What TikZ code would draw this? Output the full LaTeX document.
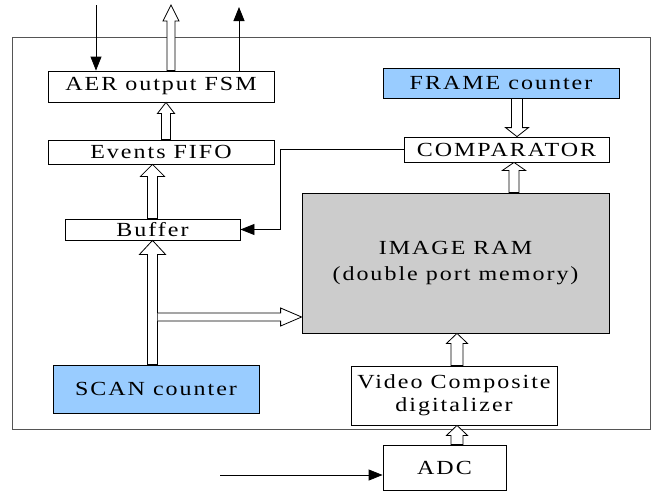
\documentclass[tikz,border=0pt]{standalone}
\usepackage{fontspec}
\setmainfont{Liberation Serif}[FakeStretch=1.2,LetterSpace=10]
\usetikzlibrary{arrows.meta,calc}
\definecolor{lblue}{HTML}{99CCFF}
\definecolor{ramgray}{HTML}{CCCCCC}
\definecolor{framegray}{HTML}{555555}
\tikzset{
  box/.style={draw=black,line width=0.8pt,fill=white,inner sep=0pt,font=\fontsize{20}{23}\selectfont},
  thinarrow/.style={draw=black,line width=0.8pt,-{Triangle[length=14pt,width=11pt]}},
  fat/.style={draw=black,line width=0.8pt,fill=white,line join=miter},
}
% vertical fat arrow upward: start, target(y), shaft half, head half, head length
\newcommand{\fatup}[5]{\path[fat] let \p1=(#1), \p2=(#2) in
  (\x1-#3pt,\y1) -- (\x1-#3pt,\y2-#5pt) -- (\x1-#4pt,\y2-#5pt) -- (\x1,\y2) --
  (\x1+#4pt,\y2-#5pt) -- (\x1+#3pt,\y2-#5pt) -- (\x1+#3pt,\y1) -- cycle;}
\newcommand{\fatdown}[5]{\path[fat] let \p1=(#1), \p2=(#2) in
  (\x1-#3pt,\y1) -- (\x1-#3pt,\y2+#5pt) -- (\x1-#4pt,\y2+#5pt) -- (\x1,\y2) --
  (\x1+#4pt,\y2+#5pt) -- (\x1+#3pt,\y2+#5pt) -- (\x1+#3pt,\y1) -- cycle;}
\newcommand{\fatright}[5]{\path[fat] let \p1=(#1), \p2=(#2) in
  (\x1,\y1+#3pt) -- (\x2-#5pt,\y1+#3pt) -- (\x2-#5pt,\y1+#4pt) -- (\x2,\y1) --
  (\x2-#5pt,\y1-#4pt) -- (\x2-#5pt,\y1-#3pt) -- (\x1,\y1-#3pt);}
\begin{document}
\begin{tikzpicture}[x=1pt,y=-1pt]
\useasboundingbox (0,0) rectangle (653,493);
% outer frame
\draw[framegray,line width=0.8pt] (12,37) rectangle (650,429);
% blocks
\node[box,minimum width=226pt,minimum height=31pt] (aer) at (161,86.5) {AER output FSM};
\node[box,minimum width=226pt,minimum height=24pt] (fifo) at (161,152) {Events FIFO};
\node[box,minimum width=175pt,minimum height=21pt] (buffer) at (152.5,229.5) {Buffer};
\node[box,fill=lblue,minimum width=236pt,minimum height=30pt] (frame) at (501,83) {FRAME counter};
\node[box,minimum width=205pt,minimum height=25pt] (comp) at (506.5,149.5) {COMPARATOR};
\node[box,fill=ramgray,minimum width=307pt,minimum height=140pt,align=center] (ram) at (455.5,263) {IMAGE RAM\\[3pt](double port memory)};
\node[box,fill=lblue,minimum width=206pt,minimum height=48pt] (scan) at (156,389) {SCAN counter};
\node[box,minimum width=206pt,minimum height=59pt,align=center] (video) at (454,395.5) {Video Composite\\digitalizer};
\node[box,minimum width=123pt,minimum height=45pt] (adc) at (444.5,467.5) {ADC};
% free ends
\coordinate (in1) at (96,5);
\coordinate (out1) at (171,5);
\coordinate (out2) at (239,7);
\coordinate (bend) at (280,0);
\coordinate (adcin) at (220,0);
\coordinate (br) at (157.5,317);
% thin arrows
\draw[thinarrow] (in1) -- (in1 |- aer.north);
\draw[thinarrow] (aer.north -| out2) -- (out2);
\draw[thinarrow] (comp.west) -- (comp.west -| bend) -- (bend |- buffer.east) -- (buffer.east);
\draw[thinarrow] ([yshift=-7.5pt]adc.west -| adcin) -- ([yshift=-7.5pt]adc.west);
% fat arrows
\fatup{[xshift=10pt]aer.north}{out1}{4}{8}{16}
\fatup{[xshift=5pt]fifo.north}{aer.south}{4.5}{8.5}{11}
\fatup{buffer.north}{fifo.south}{5}{12}{12}
\fatup{buffer.south |- scan.north}{buffer.south}{5}{13}{14}
\fatright{br}{ram.west}{4}{9}{21}
\fatdown{[xshift=16pt]frame.south}{comp.north}{5.5}{11.5}{9}
\fatup{[xshift=58.5pt]ram.north}{comp.south}{5}{11.5}{8}
\fatup{[xshift=3pt]video.north}{ram.south}{6}{10.5}{10}
\fatup{[xshift=12.5pt]adc.north}{video.south}{6}{10.5}{10}
\end{tikzpicture}
\end{document}
